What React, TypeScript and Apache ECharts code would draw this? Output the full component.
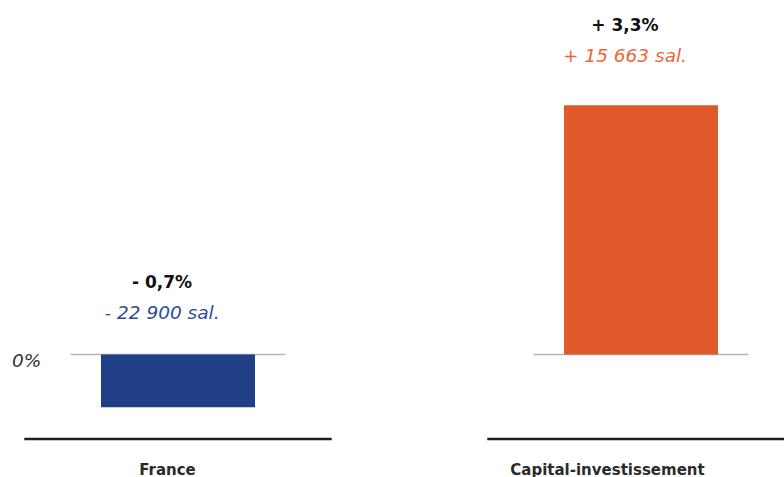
import React, { useEffect, useRef } from "react";
import * as echarts from "echarts";

const categories = ["France", "Capital-investissement"];
const pctValues = [-0.7, 3.3];
const employees = [-22900, 15663];
const barColors = ["#213F86", "#E0592A"];
const subColors = ["#2D4B9C", "#E8683A"];
const zeroLabel = "0%";

const fmtPct = (v: number) =>
  (v < 0 ? "- " : "+ ") + Math.abs(v).toFixed(1).replace(".", ",") + "%";
const fmtSal = (v: number) =>
  (v < 0 ? "- " : "+ ") +
  String(Math.abs(v)).replace(/\B(?=(\d{3})+(?!\d))/g, " ") +
  " sal.";

export default function App() {
  const ref = useRef<HTMLDivElement>(null);
  useEffect(() => {
    if (!ref.current) return;
    const chart = echarts.init(ref.current, undefined, { renderer: "svg" });
    const font = "DejaVu Sans";
    chart.setOption({
      animation: false,
      backgroundColor: "#ffffff",
      grid: {
        left: -53.5,
        right: -88.5,
        top: 7,
        bottom: 38,
        containLabel: false,
        outerBoundsMode: "none",
      },
      xAxis: {
        type: "category",
        data: categories,
        axisLine: { show: false, onZero: false },
        axisTick: { show: false },
        splitLine: { show: false },
        axisLabel: {
          margin: 23,
          formatter: (v: string, i: number) => (i === 0 ? `{a|${v}}` : `{b|${v}}`),
          rich: {
            a: { fontFamily: font, fontWeight: "bold", fontSize: 15, lineHeight: 15, color: "#2b2b2b", padding: [0, 21, 0, 0] },
            b: { fontFamily: font, fontWeight: "bold", fontSize: 15, lineHeight: 15, color: "#2b2b2b", padding: [0, 67, 0, 0] },
          },
        },
      },
      yAxis: {
        type: "value",
        min: -1.12,
        max: 4.6,
        show: false,
        splitLine: { show: false },
      },
      graphic: [
        {
          type: "text",
          left: 12,
          top: 351,
          style: { text: zeroLabel, font: `italic 18.5px ${font}`, fill: "#333333" },
        },
      ],
      series: [
        {
          type: "custom",
          z: 1,
          clip: false,
          data: pctValues.map((v, i) => [i, v]),
          renderItem: (params: any, api: any) => {
            const idx = api.value(0);
            const v = api.value(1);
            const zero = api.coord([idx, 0]);
            const top = api.coord([idx, Math.max(v, 0)]);
            const bw = api.size([1, 0])[0];
            const cs = params.coordSys;
            const bottomY = cs.y + cs.height;
            const cx = zero[0];
            const lx = cx - 16;
            const off1 = v >= 0 ? 80 : 72;
            const off2 = v >= 0 ? 50 : 42;
            return {
              type: "group",
              children: [
                {
                  type: "line",
                  shape: { x1: cx - bw * 0.232, y1: zero[1], x2: cx + bw * 0.232, y2: zero[1] },
                  style: { stroke: "#b3b3b3", lineWidth: 1.5 },
                },
                {
                  type: "line",
                  shape: { x1: cx - bw * 0.332, y1: bottomY, x2: cx + bw * 0.332, y2: bottomY },
                  style: { stroke: "#1e1e1e", lineWidth: 2.5 },
                },
                {
                  type: "text",
                  style: {
                    text: fmtPct(pctValues[idx]),
                    x: lx,
                    y: top[1] - off1,
                    align: "center",
                    verticalAlign: "middle",
                    font: `bold 17px ${font}`,
                    fill: "#111111",
                  },
                },
                {
                  type: "text",
                  style: {
                    text: fmtSal(employees[idx]),
                    x: lx,
                    y: top[1] - off2,
                    align: "center",
                    verticalAlign: "middle",
                    font: `italic 18.5px ${font}`,
                    fill: subColors[idx],
                  },
                },
              ],
            };
          },
        },
        {
          type: "bar",
          z: 2,
          barWidth: 154,
          data: pctValues.map((v, i) => ({ value: v, itemStyle: { color: barColors[i] } })),
        },
      ],
    });
    return () => chart.dispose();
  }, []);
  return (
    <div
      ref={ref}
      style={{ position: "fixed", left: 0, top: 0, width: 784, height: 477 }}
    />
  );
}
